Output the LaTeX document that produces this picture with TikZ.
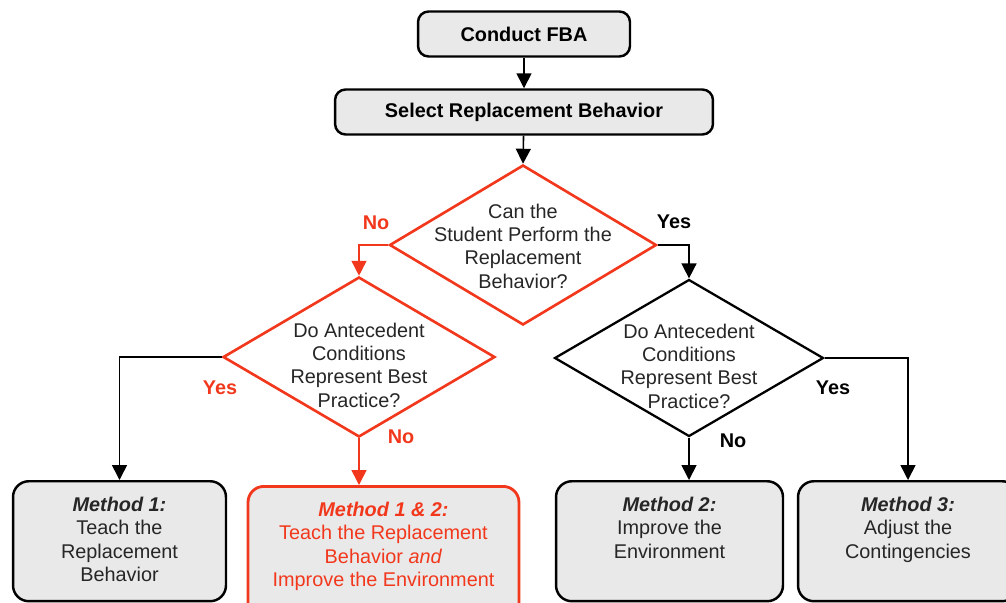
\documentclass[tikz,border=0pt]{standalone}
\usepackage{fontspec}
\setmainfont{Liberation Sans}
\usetikzlibrary{arrows.meta, shapes.geometric}

\definecolor{fbared}{RGB}{242,56,28}
\definecolor{fbagray}{RGB}{233,233,233}

\begin{document}
\begin{tikzpicture}[x=0.02cm, y=-0.02cm,
  font=\fontsize{11.3}{13.3}\selectfont,
  topbox/.style={draw, line width=1.4pt, fill=fbagray, rounded corners=6pt, inner sep=0pt, font=\fontsize{11.3}{13.3}\selectfont\bfseries},
  endbox/.style={draw, line width=1.4pt, fill=fbagray, rounded corners=9pt, inner sep=0pt, anchor=north},
  decision/.style={draw, diamond, line width=1.3pt, inner sep=0pt, minimum height=3.2cm},
  qtext/.style={align=center, inner sep=0pt, text=black!85},
  btext/.style={align=center, inner sep=0pt, anchor=north, text=black!85},
  answer/.style={font=\fontsize{11.3}{13.3}\selectfont\bfseries},
  link/.style={line width=0.9pt, -{Triangle[width=8.5pt,length=8.5pt]}}
]
  \useasboundingbox (0,0) rectangle (1006,602);
  \clip (0,0) rectangle (1006,602);

  % Top boxes
  \node[topbox, minimum width=4.24cm, minimum height=0.9cm] (fba) at (524,34) {Conduct FBA};
  \node[topbox, minimum width=7.56cm, minimum height=0.9cm] (select) at (524,112) {Select Replacement Behavior};

  % Decisions
  \node[decision, fbared, line width=1.5pt, minimum width=5.34cm] (d1) at (523,245) {};
  \node[decision, fbared, line width=1.5pt, minimum width=5.44cm] (d2) at (359,357) {};
  \node[decision, minimum width=5.38cm, minimum height=3.14cm] (d3) at (689,358) {};
  \node[qtext] (d1txt) at (523,246) {Can the\\Student Perform the\\Replacement\\Behavior?};
  \node[qtext] (d2txt) at (359,365) {Do Antecedent\\Conditions\\Represent Best\\Practice?};
  \node[qtext] (d3txt) at (689,366) {Do Antecedent\\Conditions\\Represent Best\\Practice?};

  % Methods
  \node[endbox, minimum width=4.26cm, minimum height=2.4cm] (m1) at (119.5,480) {};
  \node[endbox, draw=fbared, line width=1.6pt, minimum width=5.42cm, minimum height=2.7cm] (m12) at (383.5,485) {};
  \node[endbox, minimum width=4.54cm, minimum height=2.4cm] (m2) at (669.5,480) {};
  \node[endbox, minimum width=4.4cm, minimum height=2.4cm] (m3) at (908,480) {};
  \node[btext] (m1txt) at ([yshift=-9.6pt]m1.north) {\textbf{\textit{Method 1:}}\\Teach the\\Replacement\\Behavior};
  \node[btext, text=fbared] (m12txt) at ([yshift=-9.6pt]m12.north) {\textbf{\textit{Method 1 \& 2:}}\\Teach the Replacement\\Behavior \textit{and}\\Improve the Environment};
  \node[btext] (m2txt) at ([yshift=-9.6pt]m2.north) {\textbf{\textit{Method 2:}}\\Improve the\\Environment};
  \node[btext] (m3txt) at ([yshift=-9.6pt]m3.north) {\textbf{\textit{Method 3:}}\\Adjust the\\Contingencies};

  % Connectors
  \draw[link] (fba) -- (select);
  \draw[link] (select) -- (d1.north);
  \draw[link, fbared] (d1.west) -| (d2.north);
  \draw[link] (d1.east) -| (d3.north);
  \draw[link] (d2.west) -| (m1.north);
  \draw[link, fbared] (d2.south) -- (d2.south |- m12.north);
  \draw[link] (d3.south) -- (d3.south |- m2.north);
  \draw[link] (d3.east) -| (m3.north);

  % Answers
  \node[answer, text=fbared] (no1) at (376,223) {No};
  \node[answer] (yes1) at (674,222) {Yes};
  \node[answer, text=fbared] (yes2) at (220,388) {Yes};
  \node[answer, text=fbared] (no2) at (401,437) {No};
  \node[answer] (no3) at (733,441) {No};
  \node[answer] (yes3) at (833,388) {Yes};
\end{tikzpicture}
\end{document}
